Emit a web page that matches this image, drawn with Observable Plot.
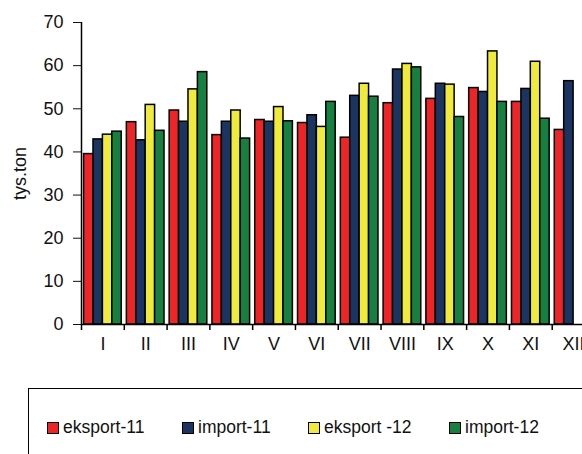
<!DOCTYPE html>
<html>
<head>
<meta charset="utf-8">
<script src="https://cdn.jsdelivr.net/npm/d3@7"></script>
<script src="https://cdn.jsdelivr.net/npm/@observablehq/plot@0.6"></script>
<style>
  html, body { margin: 0; padding: 0; overflow: hidden; background: white; width: 582px; height: 454px; }
  body { position: relative; font-family: "Liberation Sans", Arial, sans-serif; }
  #chart { position: absolute; left: 0; top: 0; width: 600px; }
  #chart svg { max-width: none !important; }
  #legend { position: absolute; left: 28px; top: 388px; width: 600px; height: 100px; border: 1.5px solid #000; box-sizing: border-box; }
  .item { position: absolute; top: 28px; display: flex; align-items: center; font-size: 17.5px; color: #111; white-space: nowrap; }
  .sw { width: 10px; height: 10px; border: 1.5px solid #000; margin-right: 4px; }
</style>
</head>
<body>
<div id="chart"></div>
<div id="legend"></div>
<script>
const months = ["I","II","III","IV","V","VI","VII","VIII","IX","X","XI","XII"];
const seriesNames = ["eksport-11", "import-11", "eksport -12", "import-12"];
const seriesColors = ["#ee2426", "#1c3461", "#efea3b", "#177f40"];
const eksport11 = [39.5, 46.9, 49.6, 43.9, 47.4, 46.7, 43.3, 51.3, 52.3, 54.8, 51.6, 45.1];
const import11  = [42.9, 42.7, 47.0, 47.0, 47.0, 48.5, 53.0, 59.1, 55.8, 53.9, 54.6, 56.4];
const eksport12 = [44.0, 50.9, 54.5, 49.6, 50.4, 45.8, 55.8, 60.4, 55.6, 63.3, 60.9, null];
const import12  = [44.7, 44.9, 58.5, 43.1, 47.1, 51.6, 52.8, 59.6, 48.1, 51.6, 47.7, null];
const yTicks = [0, 10, 20, 30, 40, 50, 60, 70];

const seriesValues = [eksport11, import11, eksport12, import12];
const data = [];
seriesValues.forEach((vals, s) => {
  vals.forEach((v, i) => {
    if (v != null) data.push({month: months[i], i, s, series: seriesNames[s], value: v});
  });
});

const groupStart = 0.06, barFrac = 0.22;
const boundaries = d3.range(months.length + 1);

const chart = Plot.plot({
  width: 600,
  height: 360,
  marginLeft: 81,
  marginRight: 5.5,
  marginTop: 22,
  marginBottom: 36,
  style: {fontFamily: "'Liberation Sans', Arial, sans-serif", fontSize: "18px", background: "white", color: "#111", maxWidth: "none"},
  x: {domain: [0, months.length], axis: null},
  y: {domain: [0, 70], ticks: yTicks, tickSize: 8, tickPadding: 10, label: "tys.ton", labelAnchor: "center", labelOffset: 68, labelArrow: false},
  color: {domain: seriesNames, range: seriesColors},
  marks: [
    Plot.rectY(data, {
      x1: d => d.i + groupStart + d.s * barFrac,
      x2: d => d.i + groupStart + (d.s + 1) * barFrac,
      y: "value",
      fill: "series",
      stroke: "#000",
      strokeWidth: 1.5
    }),
    Plot.ruleX([0], {y1: 0, y2: 70, stroke: "#000", strokeWidth: 1.5}),
    Plot.ruleY([0], {stroke: "#000", strokeWidth: 1.5}),
    Plot.ruleX(boundaries, {x: d => d, y1: 0, y2: -1.4, stroke: "#000", strokeWidth: 1.5, clip: false}),
    Plot.text(months, {x: (d, i) => i + 0.5, y: 0, dy: 20, text: d => d, fill: "#111"})
  ]
});
document.getElementById("chart").appendChild(chart);

const legend = document.getElementById("legend");
const itemX = [18, 153, 279, 420];
seriesNames.forEach((name, k) => {
  const it = document.createElement("div");
  it.className = "item";
  it.style.left = itemX[k] + "px";
  const sw = document.createElement("div");
  sw.className = "sw";
  sw.style.background = seriesColors[k];
  it.appendChild(sw);
  it.appendChild(document.createTextNode(name));
  legend.appendChild(it);
});
</script>
</body>
</html>
